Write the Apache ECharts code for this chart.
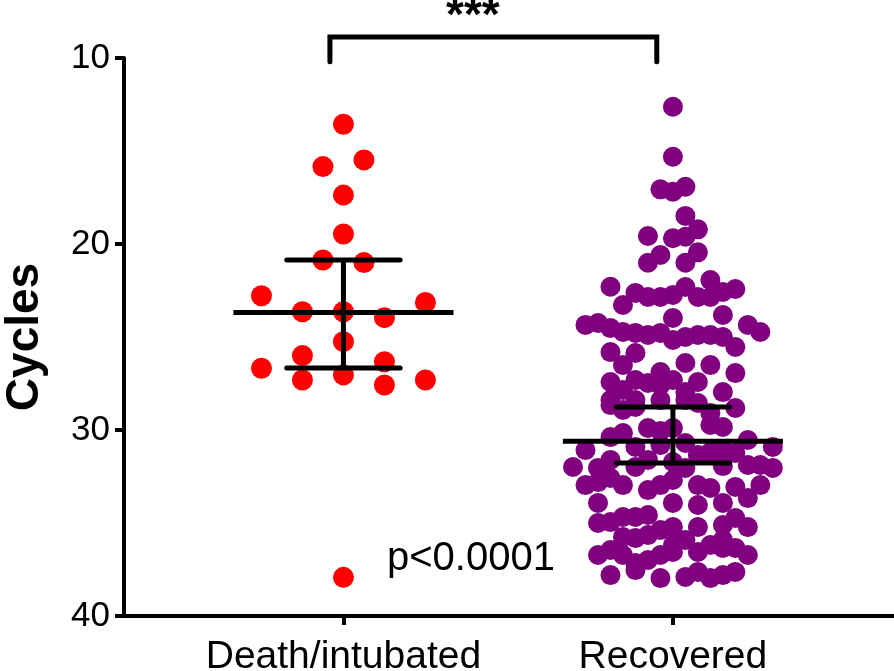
<!DOCTYPE html>
<html lang="en">
<head>
<meta charset="UTF-8">
<title>Cycles by outcome</title>
<script src="https://cdn.jsdelivr.net/npm/echarts@6/dist/echarts.min.js"></script>
<style>
  html, body { margin: 0; padding: 0; background: #fff; }
  #chart { width: 894px; height: 671px; }
</style>
</head>
<body>
<div id="chart"></div>
<script>
// groups and axis ticks
const groups = ['Death/intubated', 'Recovered'];
const yTicks = [10, 20, 30, 40];

// Ct values, with the swarm column each dot sits in
const deathCt = [13.56, 15.48, 15.84, 17.37, 19.46, 20.86, 21.0, 22.78, 23.14, 23.64, 23.64,
  23.96, 25.25, 26.0, 26.33, 26.68, 27.04, 27.31, 27.58, 27.31, 37.92];
const deathSlot = [0, 1, -1, 0, 0, -1, 1, -4, 4, -2, 0, 2, 0, -2, 2, -4, 0, -2, 2, 4, 0];

const recoveredCt = [
  12.62, 15.31, 17.06, 17.19, 16.92, 18.49, 19.21, 19.57, 19.69, 19.61, 20.59, 20.45, 21.01, 21.01, 21.94, 22.30,
  22.63, 22.85, 22.85, 22.74, 22.31, 22.85, 22.85, 22.58, 22.42, 23.28,
  23.98, 23.82, 24.35, 24.73,
  24.35, 24.25, 24.52, 24.73, 24.78, 24.89, 24.78, 25.16, 25.0, 24.89, 24.89, 25.0, 25.54,
  25.81, 25.86,
  26.51, 26.88, 26.40, 26.51, 26.94,
  27.42, 27.31, 27.47, 27.58, 27.31, 27.42, 27.96,
  27.85, 27.96,
  28.39, 28.39, 28.39, 28.39,
  28.66, 28.92, 28.76, 28.55, 29.09, 28.82,
  29.89, 30.05, 29.89, 29.73, 29.84,
  30.38, 30.16, 30.54, 30.91,
  31.08, 31.08, 31.24,
  31.99, 32.04, 31.99, 31.88, 31.88, 32.04,
  32.96, 32.80, 32.58, 32.96, 33.23, 32.96, 32.69, 32.96, 33.12, 33.06, 32.96,
  30.91, 30.81, 30.70, 31.34, 31.18, 31.61, 31.72, 32.04, 31.94, 31.61,
  33.92, 33.92, 34.03, 33.92, 33.66,
  35.0, 34.95, 34.68, 34.68, 34.57, 35.22, 35.22, 35.11, 34.73, 35.22,
  35.75, 35.81, 35.65, 35.38, 36.18, 35.91, 36.18, 35.91,
  36.72, 36.45, 36.72, 37.15, 36.99, 36.72, 36.56, 36.56, 36.34, 36.34, 36.72,
  37.80, 37.53, 37.96, 37.90, 37.63, 37.96, 37.80, 37.63
];
const recoveredSlot = [
  0, 0, -1, 0, 1, 1, 2, -2, 0, 1, -1, 2, -2, 1, 3, -5,
  -3, -2, -1, 0, 1, 2, 3, 4, 5, -4,
  0, 4, 6, 7,
  -7, -6, -5, -4, -3, -2, -1, 0, 1, 2, 3, 4, 5,
  -5, -3,
  -4, -1, 1, 3, 5,
  -5, -3, -2, -1, 0, 2, 4,
  -4, 1,
  -5, -3, -1, 1,
  -5, -4, -3, 2, 3, 5,
  -2, -1, 0, 3, 4,
  -5, -4, 6, 8,
  -7, 4, 5,
  -8, -6, -3, 6, 7, 8,
  -7, -6, -5, -4, -2, -1, 0, 2, 3, 5, 7,
  -3, -1, 1, 2, 3, -2, 0, 1, 4, -5,
  -6, 0, 2, 4, 6,
  -6, -5, -4, -3, -2, 0, 2, 4, 5, 6,
  -4, -3, -2, -1, 0, 1, 3, 4,
  -6, -5, -4, -3, -2, -1, 0, 2, 4, 5, 6,
  -5, -3, -1, 1, 2, 3, 4, 5
];

// median and interquartile range per group
const medians = [23.68, 30.6];
const q1 = [20.86, 28.77];
const q3 = [26.67, 31.77];

const FONT = '"Liberation Sans", Arial, Helvetica, sans-serif';
const deathStep = 0.0622;     // column spacing of the red swarm (x units)
const recoveredStep = 0.0379; // column spacing of the purple swarm

const chart = echarts.init(document.getElementById('chart'));

const deathPoints = deathCt.map((v, i) => [1 + deathSlot[i] * deathStep, v]);
const recoveredPoints = recoveredCt.map((v, i) => [2 + recoveredSlot[i] * recoveredStep, v]);

function seg(a, b, width, cap) {
  return {
    type: 'line',
    shape: { x1: a[0], y1: a[1], x2: b[0], y2: b[1] },
    style: { stroke: '#000', lineWidth: width, lineCap: cap || 'butt' }
  };
}

const option = {
  animation: false,
  backgroundColor: '#fff',
  grid: { left: 124, right: 0, top: 58, bottom: 55, containLabel: false, outerBoundsMode: 'none' },
  xAxis: {
    type: 'value',
    min: 0.334,
    max: 2.671,
    splitLine: { show: false },
    axisLine: { show: true, onZero: false, lineStyle: { color: '#000', width: 4 } },
    axisTick: { show: true, customValues: [1, 2], length: 9, lineStyle: { color: '#000', width: 4 } },
    axisLabel: {
      customValues: [1, 2],
      formatter: v => groups[Math.round(v) - 1],
      color: '#000', fontFamily: FONT, fontSize: 39, margin: 22
    }
  },
  yAxis: {
    type: 'value',
    inverse: true,
    min: yTicks[0],
    max: yTicks[yTicks.length - 1],
    interval: 10,
    name: 'Cycles',
    nameLocation: 'middle',
    nameGap: 76,
    nameTextStyle: { color: '#000', fontFamily: FONT, fontSize: 46, fontWeight: 'bold' },
    splitLine: { show: false },
    axisLine: { show: true, lineStyle: { color: '#000', width: 4 } },
    axisTick: { show: true, length: 9, lineStyle: { color: '#000', width: 4 } },
    axisLabel: { color: '#000', fontFamily: FONT, fontSize: 35, margin: 14 }
  },
  series: [
    {
      type: 'scatter',
      data: recoveredPoints,
      symbolSize: 20,
      itemStyle: { color: '#800080', opacity: 1 },
      z: 2
    },
    {
      type: 'scatter',
      data: deathPoints,
      symbolSize: 21,
      itemStyle: { color: '#ff0000', opacity: 1 },
      z: 2
    },
    {
      // median with interquartile range
      type: 'custom',
      z: 5,
      data: groups.map((g, i) => [i + 1, medians[i], q1[i], q3[i]]),
      renderItem: (params, api) => {
        const x = api.value(0), med = api.value(1), lo = api.value(2), hi = api.value(3);
        const halfMed = 0.334, halfCap = 0.172;
        return {
          type: 'group',
          children: [
            seg(api.coord([x - halfMed, med]), api.coord([x + halfMed, med]), 5),
            seg(api.coord([x, lo]), api.coord([x, hi]), 5),
            seg(api.coord([x - halfCap, lo]), api.coord([x + halfCap, lo]), 5, 'round'),
            seg(api.coord([x - halfCap, hi]), api.coord([x + halfCap, hi]), 5, 'round')
          ]
        };
      }
    },
    {
      // significance bracket
      type: 'custom',
      clip: false,
      z: 5,
      data: [[0.959, 1.951, 8.87, 10.2]],
      renderItem: (params, api) => {
        const a = api.coord([api.value(0), api.value(2)]);
        const b = api.coord([api.value(1), api.value(2)]);
        const a2 = api.coord([api.value(0), api.value(3)]);
        const b2 = api.coord([api.value(1), api.value(3)]);
        return {
          type: 'polyline',
          shape: { points: [a2, a, b, b2] },
          style: { stroke: '#000', lineWidth: 5, lineCap: 'round', lineJoin: 'miter', fill: null }
        };
      }
    }
  ],
  graphic: [
    {
      type: 'text', left: 446, top: -6,
      style: { text: '***', font: 'bold 46px ' + FONT, fill: '#000' }
    },
    {
      type: 'text', left: 387, top: 539,
      style: { text: 'p<0.0001', font: '40px ' + FONT, fill: '#000' }
    }
  ]
};

chart.setOption(option);
</script>
</body>
</html>
